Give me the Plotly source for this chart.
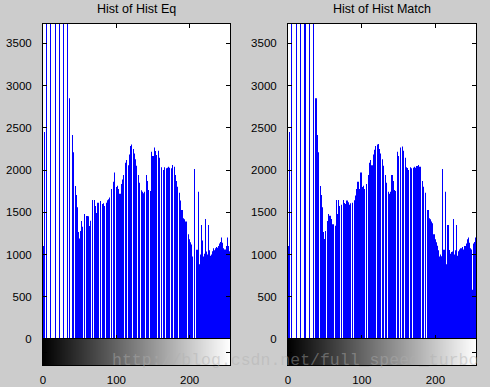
import plotly.graph_objects as go

# ---- data ----
bins = list(range(256))

hist_eq = [
    1100, 0, 2450, 0, 0, 6200, 0, 0, 0, 0, 5600, 0, 0, 0, 0, 0,
    0, 5900, 0, 0, 0, 0, 0, 5300, 0, 0, 0, 0, 4900, 0, 0, 0,
    0, 0, 4500, 0, 2850, 0, 0, 0, 2415, 2210, 0, 0, 1813, 1706, 0, 1560,
    1268, 0, 1190, 1280, 0, 1398, 1330, 0, 1481, 1457, 0, 1418, 1457, 0, 1453, 0,
    1339, 1400, 0, 1646, 1480, 0, 1646, 1575, 0, 1492, 0, 1614, 1575, 0, 1634, 1610,
    0, 1600, 0, 1607, 1575, 0, 1614, 0, 1642, 1654, 0, 1677, 0, 1776, 1760, 0,
    1863, 0, 1973, 0, 1800, 0, 1815, 1776, 0, 1720, 0, 1834, 0, 1890, 1941, 0,
    2087, 0, 2119, 0, 2056, 0, 2186, 2285, 0, 2304, 0, 2249, 0, 2198, 2127, 0,
    2052, 0, 1941, 0, 1850, 0, 1760, 1745, 0, 1725, 0, 1745, 0, 1941, 0, 1870,
    1765, 0, 1753, 0, 2218, 0, 2166, 0, 2269, 2226, 0, 2178, 0, 2230, 0, 2147,
    0, 2033, 2025, 0, 2001, 0, 2033, 0, 2021, 0, 2029, 2040, 0, 2029, 0, 2021,
    0, 2060, 0, 2040, 1941, 0, 1870, 0, 1803, 0, 1733, 1640, 0, 1528, 1528, 0,
    1430, 1418, 0, 1390, 1370, 0, 1240, 0, 1180, 1146, 1120, 1103, 976, 0, 1000, 2013,
    0, 1056, 1040, 1056, 1745, 886, 780, 1000, 1351, 1166, 1053, 976, 1010, 1030, 1422, 1036,
    990, 1000, 1351, 1050, 976, 985, 1000, 1040, 1060, 1075, 1050, 1075, 1090, 1060, 1080, 1100,
    1100, 1130, 1150, 1201, 1190, 1140, 1075, 1060, 583, 1060, 1100, 1130, 1201, 1100, 1040, 1000,
]

hist_match = [
    1100, 0, 2450, 0, 0, 6200, 0, 0, 0, 0, 0, 5600, 0, 0, 0, 0,
    0, 5900, 0, 0, 0, 0, 0, 5300, 0, 0, 0, 0, 0, 4900, 0, 0,
    0, 0, 4500, 0, 0, 0, 2850, 0, 2415, 2210, 0, 0, 1813, 1706, 0, 1560,
    1268, 0, 1185, 1280, 0, 1398, 0, 1480, 1460, 0, 1460, 1420, 0, 1360, 1346, 0,
    1340, 0, 1646, 1480, 0, 1646, 1575, 0, 1575, 1590, 0, 1646, 0, 1610, 1600, 0,
    1640, 0, 1620, 1590, 0, 1607, 0, 1575, 1614, 0, 1642, 0, 1700, 1776, 0, 1863,
    0, 1776, 0, 1973, 0, 1800, 1815, 0, 1776, 0, 1720, 1834, 0, 1941, 0, 2087,
    2119, 0, 2056, 0, 2186, 0, 2240, 2285, 0, 2304, 0, 2310, 2249, 0, 2198, 0,
    2127, 0, 2052, 0, 1941, 0, 1850, 0, 1745, 1720, 0, 1745, 0, 1941, 0, 1870,
    1765, 0, 1753, 0, 2218, 0, 2166, 0, 2269, 2226, 0, 2280, 0, 2230, 0, 2147,
    0, 2033, 2025, 0, 2001, 0, 2033, 0, 2021, 0, 2029, 2040, 0, 2029, 0, 2050,
    0, 2060, 0, 2040, 1941, 0, 1870, 0, 1803, 0, 1733, 1640, 0, 1528, 1528, 0,
    1430, 1418, 0, 1390, 1370, 0, 1240, 0, 1180, 1146, 1120, 1103, 1050, 976, 0, 1000,
    980, 2013, 0, 1056, 1040, 1056, 1745, 886, 780, 1351, 1166, 1053, 976, 1010, 1030, 1036,
    1422, 990, 1000, 1050, 1351, 976, 985, 1000, 1040, 1060, 1075, 1050, 1075, 1090, 1060, 1080,
    1100, 1100, 1130, 1150, 1180, 1201, 1140, 1075, 1060, 1060, 583, 1100, 1130, 1150, 1201, 1100,
]

gray_levels = list(range(256))
y_ticks = [0, 500, 1000, 1500, 2000, 2500, 3000, 3500]
x_ticks = [0, 100, 200]
titles = ["Hist of Hist Eq", "Hist of Hist Match"]
watermark = "http://blog.csdn.net/full_speed_turbo"

# ---- layout geometry (pixels) ----
W, H = 490, 387
panels_x = [(43, 230), (288, 476)]
hist_y = (24, 339)   # top, bottom in px from top
cbar_y = (339, 365)

def xd(a, b):
    return [a / W, b / W]

def yd(top, bot):
    return [(H - bot) / H, (H - top) / H]

FONT = "Liberation Sans, Arial, sans-serif"
BLUE = "#0000FF"

fig = go.Figure()
layout = dict(
    width=W, height=H,
    margin=dict(l=0, r=0, t=0, b=0, autoexpand=False),
    paper_bgcolor="#CCCCCC",
    plot_bgcolor="#FFFFFF",
    showlegend=False,
    font=dict(family=FONT, size=11.5, color="#000000"),
)

annotations = []
for i, (data, (x0, x1)) in enumerate(zip([hist_eq, hist_match], panels_x)):
    hx = "x" if i == 0 else "x2"
    hy = "y" if i == 0 else "y2"
    cx = "x3" if i == 0 else "x4"
    cy = "y3" if i == 0 else "y4"
    fig.add_trace(go.Bar(
        x=bins, y=data, width=0.15,
        marker=dict(color=BLUE, line=dict(width=0)),
        xaxis=hx, yaxis=hy, hoverinfo="skip",
    ))
    fig.add_trace(go.Heatmap(
        z=[gray_levels], x=gray_levels, y=[0.5],
        colorscale=[[0, "#000000"], [1, "#FFFFFF"]],
        showscale=False, xaxis=cx, yaxis=cy, hoverinfo="skip",
    ))
    hxk = "xaxis" if i == 0 else "xaxis2"
    hyk = "yaxis" if i == 0 else "yaxis2"
    cxk = "xaxis3" if i == 0 else "xaxis4"
    cyk = "yaxis3" if i == 0 else "yaxis4"
    common = dict(showgrid=False, zeroline=False, showline=True, automargin=False,
                  linecolor="#000000", linewidth=1, mirror="ticks",
                  ticks="inside", ticklen=4, tickcolor="#000000", tickwidth=1)
    layout[hxk] = dict(domain=xd(x0, x1), range=[0, 255], tickvals=x_ticks,
                       showticklabels=False, anchor=hy, **common)
    layout[hyk] = dict(domain=yd(*hist_y), range=[0, 3730], tickvals=y_ticks,
                       showticklabels=True, anchor=hx, ticklabelstandoff=8,
                       tickfont=dict(size=11.5, color="#000000"), **common)
    layout[cxk] = dict(domain=xd(x0, x1), range=[0, 255], tickvals=x_ticks,
                       showticklabels=True, anchor=cy, showgrid=False, zeroline=False,
                       automargin=False,
                       showline=True, linecolor="#000000", linewidth=1, mirror=True,
                       ticks="", ticklabelstandoff=4,
                       tickfont=dict(size=11.5, color="#000000"))
    layout[cyk] = dict(domain=yd(*cbar_y), range=[0, 1], tickvals=[0.5],
                       showticklabels=False, anchor=cx, **common)
    annotations.append(dict(
        text=titles[i], x=(x0 + x1) / 2 / W, y=1 - 18 / H,
        xref="paper", yref="paper", xanchor="center", yanchor="bottom",
        showarrow=False, font=dict(family=FONT, size=12.5, color="#000000"),
    ))

annotations.append(dict(
    text=watermark,
    x=110 / W, y=1 - 360 / H, xref="paper", yref="paper",
    xanchor="left", yanchor="middle", showarrow=False,
    font=dict(family="Liberation Mono, monospace", size=16.5,
              color="rgba(175,175,175,0.45)"),
))
layout["annotations"] = annotations
fig.update_layout(**layout)
fig.write_html(
    "out.html",
    config={"displayModeBar": False},
    post_script="document.body.style.margin='0';document.body.style.overflow='hidden';",
)
